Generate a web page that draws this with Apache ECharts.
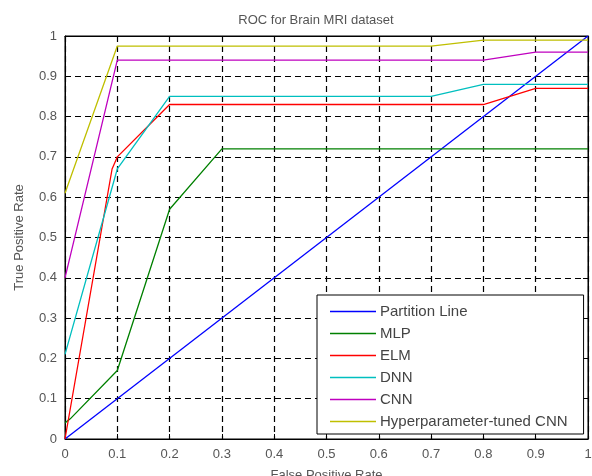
<!DOCTYPE html>
<html>
<head>
    <meta charset="utf-8">
    <title>ROC for Brain MRI dataset</title>
    <script src="https://cdn.jsdelivr.net/npm/echarts@6/dist/echarts.min.js"></script>
    <style>
        html, body { margin: 0; padding: 0; background: #fff; }
        #chart { width: 592px; height: 476px; }
    </style>
</head>
<body>
    <div id="chart"></div>
    <script>
        // ROC points, [FPR, TPR]
        var partitionLine = [[0, 0], [1, 1]];
        var mlp = [[0, 0.04], [0.01, 0.05], [0.1, 0.17], [0.2, 0.57], [0.3, 0.72], [1, 0.72]];
        var elm = [[0, 0], [0.09, 0.67], [0.1, 0.70], [0.2, 0.83], [0.8, 0.83], [0.9, 0.87], [1, 0.87]];
        var dnn = [[0, 0.21], [0.1, 0.67], [0.2, 0.85], [0.7, 0.85], [0.8, 0.88], [1, 0.88]];
        var cnn = [[0, 0.40], [0.1, 0.94], [0.8, 0.94], [0.9, 0.96], [1, 0.96]];
        var tunedCnn = [[0, 0.61], [0.1, 0.975], [0.7, 0.975], [0.8, 0.99], [1, 0.99]];
        var tickLabels = ['0', '0.1', '0.2', '0.3', '0.4', '0.5', '0.6', '0.7', '0.8', '0.9', '1'];

        var names = ['Partition Line', 'MLP', 'ELM', 'DNN', 'CNN', 'Hyperparameter-tuned CNN'];
        var colors = ['#0000ff', '#008000', '#ff0000', '#00bfbf', '#bf00bf', '#bfbf00'];
        var lines = [partitionLine, mlp, elm, dnn, cnn, tunedCnn];

        var font = 'Liberation Sans, Arial, sans-serif';
        function fmt(v) {
            return tickLabels[Math.round(v * 10)];
        }

        var axisCommon = {
            type: 'value',
            min: 0,
            max: 1,
            interval: 0.1,
            axisLine: { show: true, onZero: false, lineStyle: { color: '#000', width: 1 } },
            axisTick: { show: true, inside: true, length: 5, lineStyle: { color: '#000' } },
            splitLine: { show: true, lineStyle: { color: '#000', type: [6, 4], width: 1.2 } },
            nameTextStyle: { color: '#555', fontFamily: font, fontSize: 13 },
            axisLabel: { color: '#555', fontFamily: font, fontSize: 13, formatter: fmt }
        };
        // top / right box edges with inside ticks, no labels
        var boxCommon = {
            type: 'value',
            min: 0,
            max: 1,
            interval: 0.1,
            axisLine: { show: true, onZero: false, lineStyle: { color: '#000', width: 1 } },
            axisTick: { show: true, inside: true, length: 5, lineStyle: { color: '#000' } },
            axisLabel: { show: false },
            splitLine: { show: false }
        };

        var series = [];
        for (var i = 0; i < lines.length; i++) {
            series.push({
                name: names[i],
                type: 'line',
                data: lines[i],
                showSymbol: false,
                symbol: 'none',
                lineStyle: { color: colors[i], width: 1.3 },
                itemStyle: { color: colors[i] },
                animation: false
            });
        }

        var myChart = echarts.init(document.getElementById('chart'));
        var option = {
            backgroundColor: '#fff',
            animation: false,
            title: {
                text: 'ROC for Brain MRI dataset',
                left: 311,
                top: 9,
                textAlign: 'center',
                textStyle: { color: '#555', fontFamily: font, fontSize: 13, fontWeight: 'normal' }
            },
            grid: {
                left: 65, right: 4, top: 36, bottom: 37,
                containLabel: false, outerBoundsMode: 'none',
                show: true, borderColor: '#000', borderWidth: 1
            },
            legend: {
                data: names,
                orient: 'vertical',
                left: 317,
                top: 295,
                padding: [9, 16, 5, 13],
                itemGap: 7,
                itemWidth: 46,
                itemHeight: 14,
                backgroundColor: '#fff',
                borderColor: '#000',
                borderWidth: 1,
                icon: 'path://M0,6.3 L46,6.3 L46,7.8 L0,7.8 Z',
                textStyle: { color: '#444', fontFamily: font, fontSize: 15, lineHeight: 14, padding: [0, 0, 0, -1] }
            },
            xAxis: [
                Object.assign({}, axisCommon, {
                    name: 'False Positive Rate',
                    nameLocation: 'middle',
                    nameGap: 30,
                    axisLabel: Object.assign({}, axisCommon.axisLabel, { margin: 9 })
                }),
                Object.assign({}, boxCommon, { position: 'top' })
            ],
            yAxis: [
                Object.assign({}, axisCommon, {
                    name: 'True Positive Rate',
                    nameLocation: 'middle',
                    nameGap: 39,
                    axisLabel: Object.assign({}, axisCommon.axisLabel, { margin: 8 })
                }),
                Object.assign({}, boxCommon, { position: 'right' })
            ],
            series: series
        };
        myChart.setOption(option, true);
    </script>
</body>
</html>
